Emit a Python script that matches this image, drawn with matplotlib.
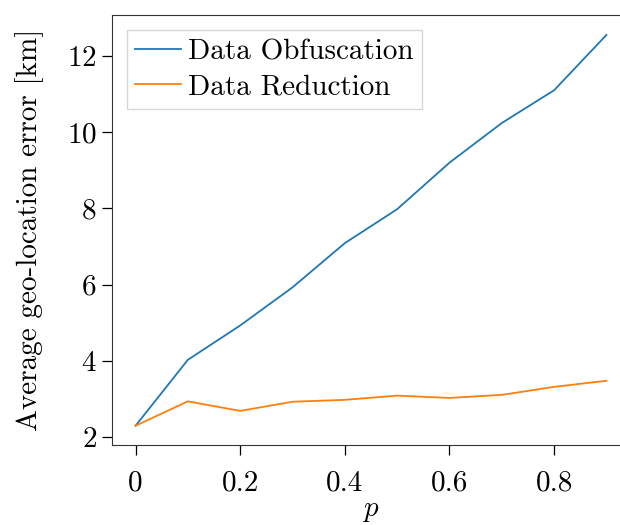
import matplotlib
matplotlib.use("Agg")
import matplotlib.pyplot as plt

# Average geo-location error versus probability p
p_values = [0.0, 0.1, 0.2, 0.3, 0.4, 0.5, 0.6, 0.7, 0.8, 0.9]
obfuscation_err = [2.30, 4.03, 4.93, 5.93, 7.09, 7.98, 9.20, 10.24, 11.10, 12.55]
reduction_err = [2.30, 2.94, 2.69, 2.93, 2.98, 3.09, 3.03, 3.11, 3.32, 3.48]

series_labels = ["Data Obfuscation", "Data Reduction"]
x_label = r"$p$"
y_label = "Average geo-location error [km]"

plt.rcParams["font.family"] = "cmr10"
plt.rcParams["mathtext.fontset"] = "cm"
plt.rcParams["axes.formatter.use_mathtext"] = True
plt.rcParams["font.size"] = 21

fig = plt.figure(figsize=(6.2, 5.25), dpi=100)
W, H = 620, 525
left, right, bottom, top = 112, 630, 445.3, 15.4
ax = fig.add_axes([left / W, (H - bottom) / H, (right - left) / W, (bottom - top) / H])

ax.plot(p_values, obfuscation_err, color="#1f77b4", lw=1.3, label=series_labels[0])
ax.plot(p_values, reduction_err, color="#ff7f0e", lw=1.3, label=series_labels[1])

ax.set_xticks([0, 0.2, 0.4, 0.6, 0.8])
ax.set_xticklabels(["0", "0.2", "0.4", "0.6", "0.8"])
ax.set_yticks([2, 4, 6, 8, 10, 12])
ax.set_xlabel(x_label, fontsize=21, labelpad=1)
ax.set_ylabel(y_label, fontsize=21, labelpad=16)
ax.tick_params(axis="x", labelsize=21, length=7, width=0.9, pad=11)
ax.tick_params(axis="y", labelsize=21, length=7, width=0.9, pad=4)
for s in ax.spines.values():
    s.set_color("#333333")

leg = ax.legend(loc="upper left", fancybox=False, fontsize=21, handlelength=1.55,
                borderpad=0.3, labelspacing=0.3, handletextpad=0.25,
                borderaxespad=0.5)
leg.get_frame().set_edgecolor("#cccccc")

fig.savefig("out.png", dpi=100)
